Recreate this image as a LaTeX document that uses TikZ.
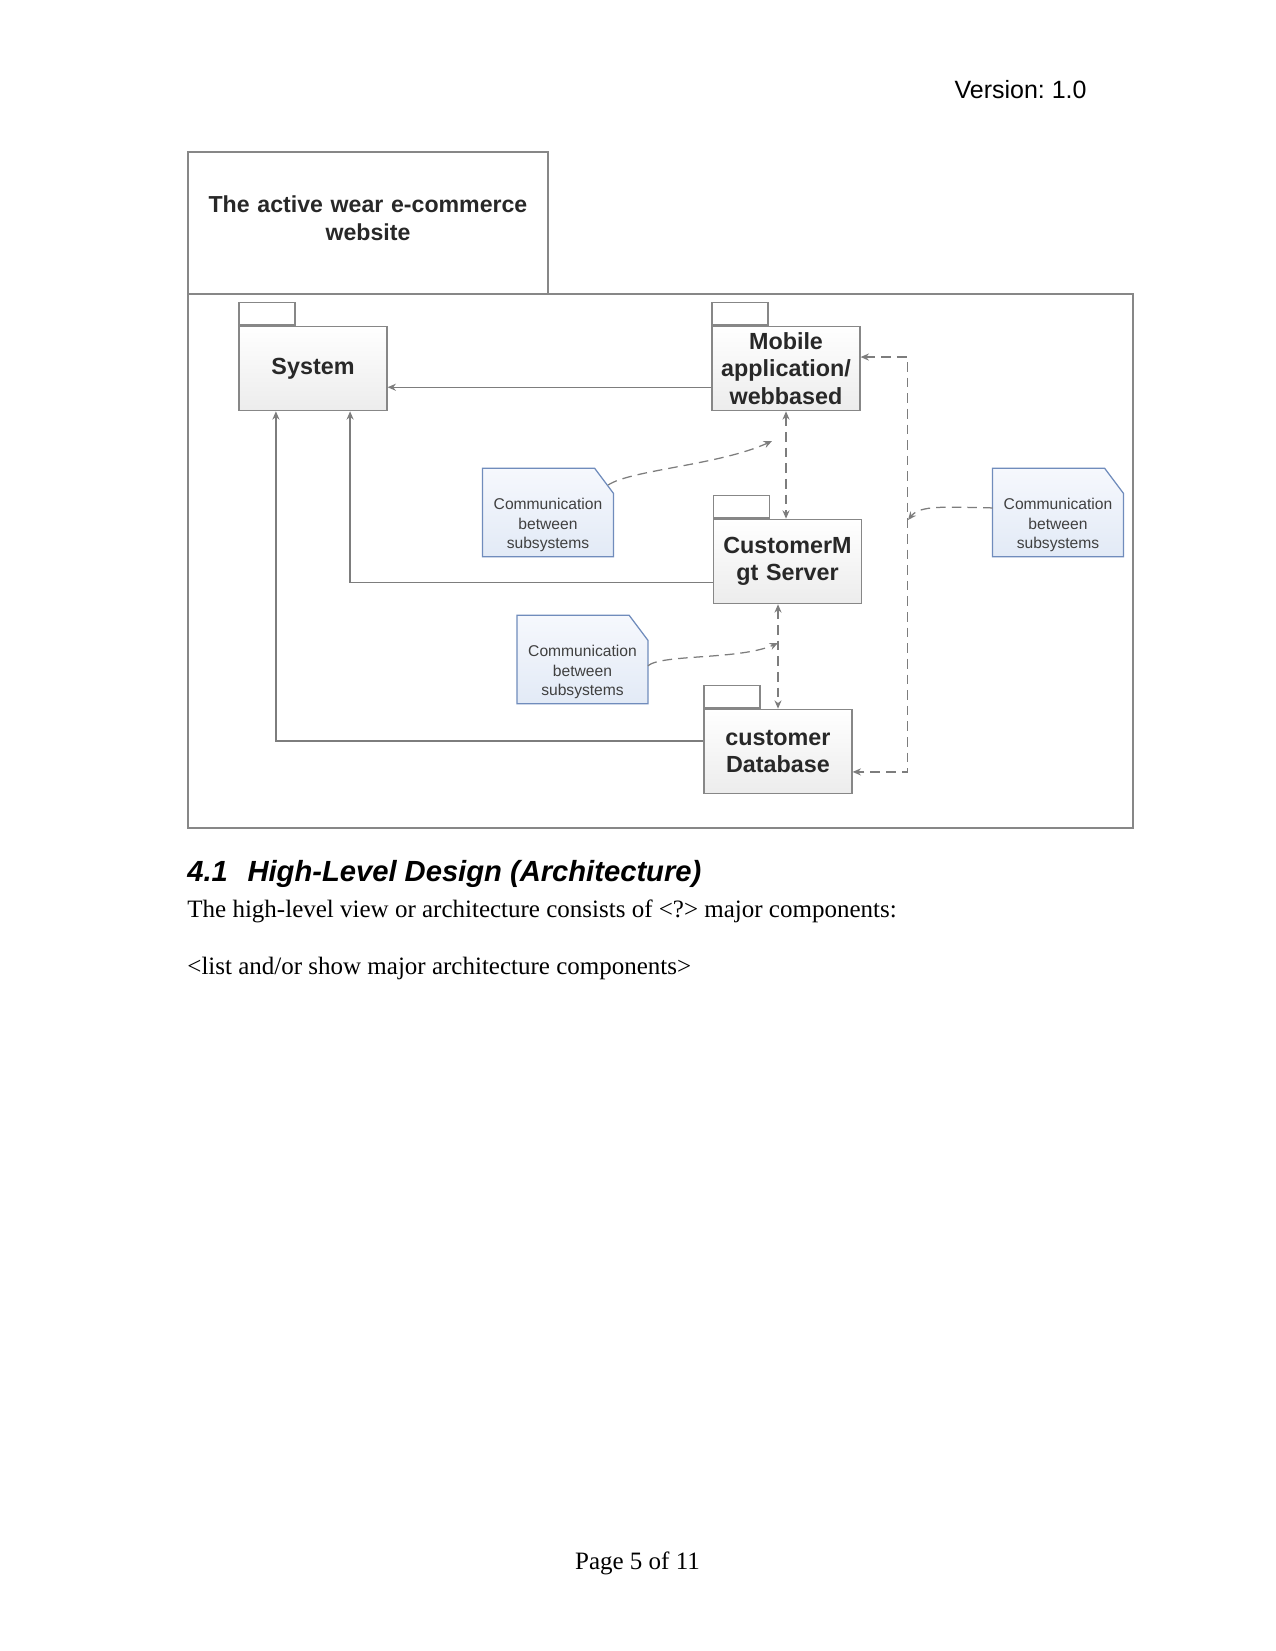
\documentclass[tikz,border=0pt]{standalone}
\usepackage{fontspec}
\setmainfont{Liberation Serif}
\setsansfont{Liberation Sans}
\usepackage{xcolor}
\usepackage{tikz}
\usetikzlibrary{arrows.meta, positioning, calc, backgrounds}
\definecolor{pkgline}{RGB}{135,135,135}
\definecolor{pkgshade}{RGB}{236,236,236}
\definecolor{pkgtext}{RGB}{40,40,40}
\definecolor{noteline}{RGB}{112,140,188}
\definecolor{notetop}{RGB}{246,248,253}
\definecolor{notebot}{RGB}{226,234,246}
\definecolor{notetext}{RGB}{64,64,64}
\definecolor{wire}{RGB}{125,125,125}
\tikzstyle{package} = [rectangle, draw=pkgline, line width=0.6pt, top color=white, bottom color=pkgshade, minimum width=71pt, minimum height=40.5pt, inner sep=0pt, text width=68pt, align=center, text=pkgtext, font=\sffamily\bfseries\fontsize{11.2}{13.1}\selectfont]
\tikzstyle{pkgtab} = [rectangle, draw=pkgline, line width=0.6pt, fill=white, minimum width=26.9pt, minimum height=11pt, inner sep=0pt, anchor=south west]
\tikzstyle{note} = [rectangle, minimum width=62.4pt, minimum height=30pt, inner sep=0pt, text width=60pt, align=center, text=notetext, font=\sffamily\fontsize{7.5}{9.4}\selectfont]
\tikzstyle{link} = [draw=wire, line width=0.6pt, ->, >={Stealth[length=4pt,width=3.4pt]}]
\tikzstyle{dlink} = [draw=wire, line width=0.6pt, dash pattern=on 4.6pt off 2.9pt, >={Stealth[length=4pt,width=3.4pt]}]
\tikzstyle{pagetext} = [inner sep=0pt, font=\fontsize{12}{14}\selectfont]

\begin{document}
\begin{tikzpicture}[x=0.48pt, y=-0.48pt]
\useasboundingbox (0,0) rectangle (1275,1651);

% Page header
\node[pagetext, anchor=base east, font=\sffamily\fontsize{12}{14}\selectfont] (ver) at (1087,99) {Version:\ 1.0};

% Frame
\draw[pkgline, line width=0.6pt] (188,152) rectangle (548,294);
\draw[pkgline, line width=0.6pt] (188,294) rectangle (1133,828);
\node[text width=165pt, align=center, text=pkgtext, font=\sffamily\bfseries\fontsize{11.1}{13.4}\selectfont] (title) at (368,218) {The active wear e-commerce\\website};

% Packages
\node[package] (sys) at (313,368.5) {System};
\node[package] (mob) at (786,368.5) {Mobile\\application/\\webbased};
\node[package] (cms) at (787.5,561.5) {CustomerM\\gt Server};
\node[package] (db) at (778,751.5) {customer\\Database};
\node[pkgtab] (systab) at (sys.north west) {};
\node[pkgtab] (mobtab) at (mob.north west) {};
\node[pkgtab] (cmstab) at (cms.north west) {};
\node[pkgtab] (dbtab) at (db.north west) {};

% Notes
\node[note] (noteA) at (548,525) {Communication\\between\\subsystems};
\node[note] (noteB) at (1058,525) {Communication\\between\\subsystems};
\node[note] (noteC) at (582.5,672) {Communication\\between\\subsystems};
\begin{scope}[on background layer]
\fill[white] (0,0) rectangle (1275,1651);
\foreach \n in {noteA,noteB,noteC}
  \draw[draw=noteline, line width=0.6pt, top color=notetop, bottom color=notebot] ([yshift=12pt]\n.north west) -- ([xshift=-9pt,yshift=12pt]\n.north east) -- (\n.north east) -- (\n.south east) -- (\n.south west) -- cycle;
\end{scope}

% Arrows to System
\draw[link] ([yshift=-9pt]mob.west) -- ([yshift=-9pt]sys.east);
\draw[link] ([yshift=-10pt]cms.west) -| ([xshift=17.8pt]sys.south);
\draw[link] ([yshift=5pt]db.west) -| ([xshift=-17.8pt]sys.south);

% Communication between subsystems
\draw[dlink, <->] (mob.south) -- (mob.south |- cms.north);
\draw[dlink, <->] (cms.south -| db.north) -- (db.north);
\draw[dlink, <->] ([yshift=5.5pt]mob.east) -- ++(47,0) |- ([yshift=-9.8pt]db.east);

% Note pointers
\coordinate (tipA) at (772,441);
\coordinate (tipB) at (908,520);
\coordinate (tipC) at (778,643);
\draw[dlink, ->] ([xshift=-2.5pt,yshift=4pt]noteA.north east) .. controls (630,470) and (720,465) .. (tipA);
\draw[dlink, ->] ([yshift=-7pt]noteB.north west) .. controls (945,507) and (920,505) .. (tipB);
\draw[dlink, ->] ([yshift=3pt]noteC.east) .. controls (662,654) and (740,660) .. (tipC);

% Section text
\node[pagetext, anchor=base west, font=\sffamily\bfseries\itshape\fontsize{14}{16}\selectfont] (head) at (187,881) {4.1\hspace{9.4pt}High-Level Design (Architecture)};
\node[pagetext, anchor=base west] (intro) at (187,917) {The high-level view or architecture consists of <?> major components:};
\node[pagetext, anchor=base west] (todo) at (187,974) {<list and/or show major architecture components>};

% Footer
\node[pagetext, anchor=base] (pagenum) at (637.5,1569) {Page 5 of 11};
\end{tikzpicture}
\end{document}
